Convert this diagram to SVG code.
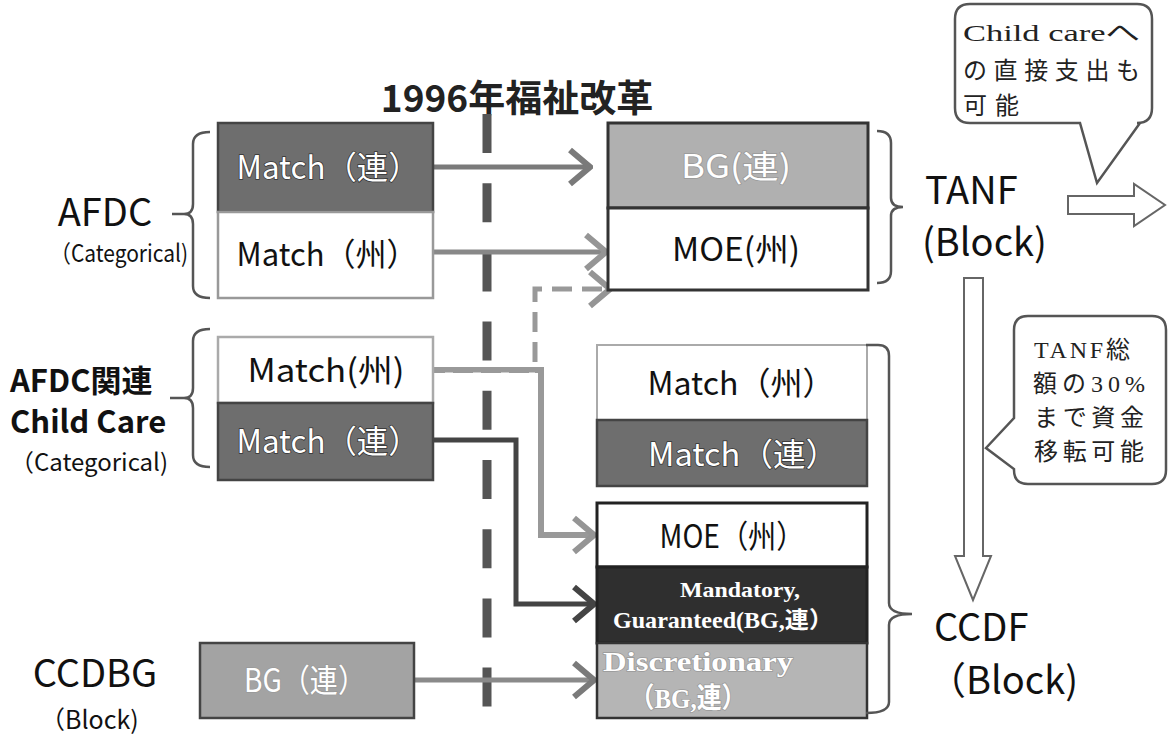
<svg xmlns="http://www.w3.org/2000/svg" width="1169" height="738" viewBox="0 0 1169 738">
<style>
.sans{font-family:"Noto Sans CJK JP","Noto Sans",sans-serif;}
.serif{font-family:"Liberation Serif","Noto Sans CJK JP",serif;}
.lbl{font-size:32px;text-anchor:middle;}
.wt{fill:#fff;stroke:#333;stroke-width:1.5px;paint-order:stroke;}
.bk{fill:#111;}
.side{font-size:38px;fill:#111;}
.cat{font-size:24px;fill:#111;}
.call{font-size:24px;fill:#222;}
.ln{fill:none;stroke-linecap:butt;stroke-linejoin:miter;}
.brace{fill:none;stroke:#555;stroke-width:2.5;}
</style>
<defs>
<marker id="ahGray" markerUnits="userSpaceOnUse" viewBox="0 0 26 40" markerWidth="26" markerHeight="40" refX="23" refY="20" orient="auto"><path d="M3,3 L23,20 L3,37" fill="none" stroke="#7a7a7a" stroke-width="6"/></marker>
<marker id="ahLight" markerUnits="userSpaceOnUse" viewBox="0 0 26 40" markerWidth="26" markerHeight="40" refX="23" refY="20" orient="auto"><path d="M3,3 L23,20 L3,37" fill="none" stroke="#959595" stroke-width="6"/></marker>
<marker id="ahDark" markerUnits="userSpaceOnUse" viewBox="0 0 26 40" markerWidth="26" markerHeight="40" refX="23" refY="20" orient="auto"><path d="M3,3 L23,20 L3,37" fill="none" stroke="#444" stroke-width="6"/></marker>
</defs>
<rect width="1169" height="738" fill="#fff"/>

<g id="title">
<text class="sans" x="517" y="112" font-size="37" font-weight="700" text-anchor="middle" fill="#222">1996年福祉改革</text>
<line x1="487" y1="114" x2="487" y2="710" stroke="#555" stroke-width="9" stroke-dasharray="39 30.2"/>
</g>

<g id="connectors">
<line class="ln" x1="434" y1="167" x2="590" y2="167" stroke="#7a7a7a" stroke-width="5" marker-end="url(#ahGray)"/>
<line class="ln" x1="434" y1="252" x2="606" y2="252" stroke="#888" stroke-width="5" marker-end="url(#ahLight)"/>
<path class="ln" d="M535,362 L535,289 L610,289" stroke="#999" stroke-width="5" stroke-dasharray="20 10" marker-end="url(#ahLight)"/>
<path class="ln" d="M434,370 L541,370 L541,535 L594,535" stroke="#999" stroke-width="6" marker-end="url(#ahLight)"/>
<line x1="445" y1="373.5" x2="535" y2="373.5" stroke="#fff" stroke-width="2" stroke-dasharray="8 20"/>
<path class="ln" d="M434,440 L516,440 L516,604 L594,604" stroke="#444" stroke-width="5" marker-end="url(#ahDark)"/>
<line class="ln" x1="414" y1="680" x2="594" y2="680" stroke="#8a8a8a" stroke-width="5" marker-end="url(#ahGray)"/>
<polygon points="1068,196 1134,196 1134,184 1165,205 1134,226 1134,214 1068,214" fill="#fff" stroke="#666" stroke-width="2"/>
<polygon points="964,278 983,278 983,556 991,556 973,600 955,556 964,556" fill="#fff" stroke="#666" stroke-width="2"/>
</g>

<g id="afdc">
<path class="brace" d="M210,132 Q193,132 193,144 L193,204 Q193,214 184,214 L172,214 M184,214 Q193,214 193,224 L193,286 Q193,298 210,298"/>
<text class="sans side" x="105" y="226" text-anchor="middle">AFDC</text>
<text class="sans cat" x="50" y="262" textLength="138" lengthAdjust="spacingAndGlyphs">（Categorical)</text>
<rect x="218" y="123" width="215" height="89" fill="#6e6e6e" stroke="#444" stroke-width="2.5"/>
<text class="sans lbl wt" x="328" y="179" textLength="183" lengthAdjust="spacingAndGlyphs">Match（連）</text>
<rect x="218" y="212" width="215" height="86" fill="#fff" stroke="#999" stroke-width="2.5"/>
<text class="sans lbl bk" x="327" y="266" textLength="181" lengthAdjust="spacingAndGlyphs">Match（州）</text>
</g>

<g id="afdc-childcare">
<path class="brace" d="M210,329 Q193,329 193,341 L193,388 Q193,398 184,398 L170,398 M184,398 Q193,398 193,408 L193,455 Q193,467 210,467"/>
<text class="sans" x="10" y="392" font-size="31" font-weight="700" fill="#111">AFDC関連</text>
<text class="sans" x="10" y="433" font-size="31" font-weight="700" fill="#111">Child Care</text>
<text class="sans cat" x="10" y="471" textLength="158" lengthAdjust="spacingAndGlyphs">（Categorical)</text>
<rect x="218" y="337" width="215" height="66" fill="#fff" stroke="#aaa" stroke-width="2.5"/>
<text class="sans lbl bk" x="326" y="382" textLength="157" lengthAdjust="spacingAndGlyphs">Match(州)</text>
<rect x="218" y="403" width="215" height="77" fill="#6e6e6e" stroke="#444" stroke-width="2.5"/>
<text class="sans lbl wt" x="328" y="453" textLength="183" lengthAdjust="spacingAndGlyphs">Match（連）</text>
</g>

<g id="ccdbg">
<text class="sans side" x="95" y="687" text-anchor="middle" font-size="33">CCDBG</text>
<text class="sans" x="40" y="729" font-size="25" fill="#111">（Block)</text>
<rect x="200" y="643" width="214" height="75" fill="#a3a3a3" stroke="#444" stroke-width="2.5"/>
<text class="sans lbl wt" x="305" y="692" style="stroke:#999" textLength="122" lengthAdjust="spacingAndGlyphs">BG（連）</text>
</g>

<g id="tanf">
<rect x="608" y="123" width="260" height="85" fill="#b0b0b0" stroke="#333" stroke-width="3"/>
<text class="sans lbl wt" x="736" y="178" style="stroke:#999" textLength="110" lengthAdjust="spacingAndGlyphs">BG(連)</text>
<rect x="608" y="208" width="260" height="82" fill="#fff" stroke="#333" stroke-width="3"/>
<text class="sans lbl bk" x="736" y="261" textLength="128" lengthAdjust="spacingAndGlyphs">MOE(州)</text>
<path class="brace" d="M877,131 Q891,131 891,143 L891,198 Q891,207 903,207 Q891,207 891,216 L891,271 Q891,283 877,283"/>
<text class="sans side" x="925" y="204" font-size="41">TANF</text>
<text class="sans side" x="922" y="256" font-size="41">(Block)</text>
</g>

<g id="ccdf">
<rect x="597" y="345" width="270" height="75" fill="#fff" stroke="#aaa" stroke-width="2"/>
<text class="sans lbl bk" x="741" y="395" textLength="187" lengthAdjust="spacingAndGlyphs">Match（州）</text>
<rect x="597" y="420" width="270" height="66" fill="#6e6e6e" stroke="#444" stroke-width="2.5"/>
<text class="sans lbl wt" x="743" y="466" textLength="190" lengthAdjust="spacingAndGlyphs">Match（連）</text>
<rect x="597" y="503" width="270" height="64" fill="#fff" stroke="#222" stroke-width="3"/>
<text class="sans lbl bk" x="732" y="548" textLength="145" lengthAdjust="spacingAndGlyphs">MOE（州）</text>
<rect x="597" y="567" width="270" height="76" fill="#2f2f2f" stroke="#222" stroke-width="3"/>
<text class="serif wt" x="740" y="597" font-size="22" font-weight="700" text-anchor="middle" textLength="120" lengthAdjust="spacingAndGlyphs">Mandatory,</text>
<text class="serif wt" x="723" y="628" font-size="23" font-weight="700" text-anchor="middle" textLength="220" lengthAdjust="spacingAndGlyphs">Guaranteed(BG,連）</text>
<rect x="597" y="643" width="270" height="75" fill="#b5b5b5" stroke="#333" stroke-width="2.5"/>
<text class="serif wt" x="698" y="671" font-size="28" font-weight="700" text-anchor="middle" style="stroke:#999" textLength="190" lengthAdjust="spacingAndGlyphs">Discretionary</text>
<text class="serif wt" x="688" y="708" font-size="28" font-weight="700" text-anchor="middle" style="stroke:#999" textLength="117" lengthAdjust="spacingAndGlyphs">（BG,連）</text>
<path class="brace" d="M866,345 L878,345 Q889,345 889,356 L889,603 Q889,614 912,614 Q889,614 889,625 L889,702 Q889,713 866,713"/>
<text class="sans side" x="934" y="641" font-size="43">CCDF</text>
<text class="sans side" x="928" y="694" font-size="43">（Block)</text>
</g>

<g id="callout-childcare">
<path d="M970,4 L1137,4 Q1152,4 1152,19 L1152,108 Q1152,123 1137,123 L1140,123 L1097,183 L1080,123 L970,123 Q955,123 955,108 L955,19 Q955,4 970,4 Z" fill="#fff" stroke="#555" stroke-width="2.5"/>
<text class="serif call" x="963" y="41" font-size="26" textLength="177" lengthAdjust="spacingAndGlyphs">Child careへ</text>
<text class="serif call" x="963" y="79" textLength="177" lengthAdjust="spacing">の直接支出も</text>
<text class="serif call" x="963" y="114" textLength="56" lengthAdjust="spacing">可能</text>
</g>

<g id="callout-transfer">
<path d="M1028,316 L1152,316 Q1166,316 1166,330 L1166,470 Q1166,484 1152,484 L1028,484 Q1014,484 1014,470 L1014,469 L986,448 L1014,418 L1014,330 Q1014,316 1028,316 Z" fill="#fff" stroke="#555" stroke-width="2.5"/>
<text class="serif call" x="1034" y="358" textLength="96" lengthAdjust="spacing">TANF総</text>
<text class="serif call" x="1033" y="392" textLength="112" lengthAdjust="spacing">額の30%</text>
<text class="serif call" x="1034" y="426" textLength="110" lengthAdjust="spacing">まで資金</text>
<text class="serif call" x="1034" y="460" textLength="110" lengthAdjust="spacing">移転可能</text>
</g>
</svg>
